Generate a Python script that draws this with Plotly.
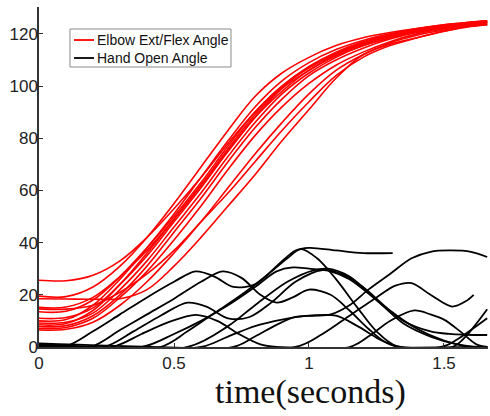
import plotly.graph_objects as go

# ---- Elbow extension/flexion angle (deg), one list per trial, sampled on a common time grid (s)
elbow_t = [0, 0.1, 0.2, 0.3, 0.4, 0.5, 0.6, 0.7, 0.8, 0.9, 1.0, 1.1, 1.2, 1.3, 1.4, 1.5, 1.6, 1.66]

elbow_01 = [25.6, 25.4, 27.5, 33, 42, 53, 65, 78, 90, 100, 107.5, 113, 117, 119.5, 121.5, 123, 124, 124.5]
elbow_02 = [19.5, 19.3, 23, 31, 42, 55, 69, 83, 96, 105, 111, 115.5, 118.5, 120.5, 122, 123.5, 124.5, 125]
elbow_03 = [18.5, 18.4, 18.3, 18.5, 22, 31, 42, 54, 66, 79, 91, 103, 112, 116, 118.5, 121, 123, 123.8]
elbow_04 = [14.6, 14.5, 16, 21, 28, 37, 48, 59, 71, 83, 94, 104, 111, 115.5, 118.5, 121, 122.8, 123.5]
elbow_05 = [13.5, 13.7, 18, 27, 38, 50, 63, 77, 90, 100, 107, 112.5, 116.5, 119.5, 121.5, 123, 124, 124.5]
elbow_06 = [10, 10.5, 16, 26, 38, 51, 65, 79, 92, 102, 109, 114, 117.5, 120, 122, 123.5, 124.5, 125]
elbow_07 = [9.2, 9.5, 13, 22, 33, 46, 59, 73, 86, 97, 105, 111, 115.5, 118.5, 121, 122.5, 123.5, 124]
elbow_08 = [7.8, 8.2, 12, 20, 31, 44, 57, 71, 84, 95, 104, 110, 114.5, 118, 120.5, 122, 123.5, 124]
elbow_09 = [7.0, 7.5, 11, 19, 29, 41, 54, 68, 81, 92, 101, 108, 113, 117, 120, 122, 123.5, 124]
elbow_10 = [6.5, 6.8, 9.5, 16, 25, 36, 48, 61, 74, 86, 97, 106, 112, 116.5, 119.5, 121.5, 123, 123.5]
elbow_11 = [11, 11.3, 15, 24, 35, 48, 61, 75, 88, 99, 106, 112, 116, 119, 121, 122.5, 124, 124.5]
elbow_12 = [15.2, 15.3, 19, 27, 37, 49, 62, 75, 88, 98, 106, 111.5, 115.5, 118.5, 121, 122.5, 124, 124.5]
elbow_13 = [8.5, 9, 14, 24, 36, 49, 62, 76, 89, 99.5, 107, 112.5, 116.5, 119.5, 121.5, 123, 124, 124.7]

elbow_trials = [elbow_01, elbow_02, elbow_03, elbow_04, elbow_05, elbow_06, elbow_07,
                elbow_08, elbow_09, elbow_10, elbow_11, elbow_12, elbow_13]

# ---- Hand opening angle (deg), one (time, value) pair of lists per trial
hand_01_t = [0, 0.1, 0.2, 0.3, 0.4, 0.5, 0.58, 0.65, 0.72, 0.8, 0.88, 0.95, 1.0, 1.1, 1.2, 1.31]
hand_01_y = [0.8, 0.3, 6, 12.5, 19, 25, 29, 27, 23, 24, 31, 37, 38, 37, 36, 36]

hand_02_t = [0, 0.19, 0.3, 0.4, 0.5, 0.6, 0.68, 0.75, 0.82, 0.88, 0.94, 1.0, 1.08, 1.15, 1.22, 1.28, 1.34, 1.66]
hand_02_y = [0.5, 0, 6.5, 12.5, 18.5, 25, 29, 26.5, 20, 17, 19, 22, 20, 14, 7, 2, 0, 0]

hand_03_t = [0, 0.24, 0.35, 0.45, 0.55, 0.62, 0.7, 0.78, 0.86, 0.95, 1.05, 1.12, 1.2, 1.3, 1.4, 1.5, 1.6, 1.66]
hand_03_y = [1.0, 0, 6, 12, 17, 15.5, 11, 11.5, 17, 25, 29.5, 28, 23, 14, 7, 2.5, 0, 0]

hand_04_t = [0, 0.27, 0.38, 0.48, 0.58, 0.66, 0.74, 0.82, 0.88, 1.66]
hand_04_y = [0.4, 0, 5, 9.5, 12.3, 10, 5, 1, 0, 0]

hand_05_t = [0, 0.38, 0.5, 0.6, 0.7, 0.8, 0.88, 0.94, 1.0, 1.08, 1.15, 1.25, 1.35, 1.45, 1.52, 1.58, 1.66]
hand_05_y = [1.2, 0, 5, 10, 16, 23, 29, 30.5, 30, 29, 26, 18, 10, 6, 5, 4.7, 4.6]

hand_06_t = [0, 0.45, 0.55, 0.65, 0.75, 0.85, 0.92, 0.97, 1.03, 1.1, 1.18, 1.25, 1.33, 1.66]
hand_06_y = [0.6, 0, 6, 13, 20, 28, 34, 37.5, 34, 26, 15, 6, 0, 0]

hand_07_t = [0, 0.72, 0.8, 0.88, 0.95, 1.02, 1.08, 1.15, 1.22, 1.3, 1.38, 1.45, 1.52, 1.6, 1.66]
hand_07_y = [0.3, 0, 4, 8.5, 11.5, 12, 12.5, 16, 22, 28, 34, 36.5, 37, 36.5, 34.5]

hand_08_t = [0, 0.95, 1.05, 1.15, 1.25, 1.32, 1.38, 1.45, 1.53, 1.58, 1.61]
hand_08_y = [0.9, 0, 5, 12, 19, 23.5, 24.5, 20, 15.5, 17.5, 20]

hand_09_t = [0, 1.15, 1.22, 1.3, 1.39, 1.45, 1.5, 1.56, 1.62, 1.66]
hand_09_y = [0.2, 0, 4, 10, 14, 12.5, 10.5, 6, 1, 0]

hand_10_t = [0, 0.55, 0.7, 0.8, 0.92, 1.02, 1.07, 1.15, 1.25, 1.35, 1.45, 1.55, 1.62, 1.66]
hand_10_y = [0.7, 0, 8, 16, 25, 29.5, 30, 27, 18, 9, 4, 1, 0, 0]

hand_11_t = [0, 1.49, 1.55, 1.6, 1.66]
hand_11_y = [1.4, 0, 3, 6.5, 11]

hand_12_t = [0, 1.53, 1.58, 1.62, 1.66]
hand_12_y = [0.5, 0, 4, 9, 14.5]

hand_13_t = [0, 0.6, 0.7, 0.8, 0.9, 1.0, 1.1, 1.18, 1.26, 1.33, 1.66]
hand_13_y = [1.1, 0, 4, 8, 10.5, 12, 12, 8, 3, 0, 0]

hand_trials = [
    (hand_01_t, hand_01_y), (hand_02_t, hand_02_y), (hand_03_t, hand_03_y),
    (hand_04_t, hand_04_y), (hand_05_t, hand_05_y), (hand_06_t, hand_06_y),
    (hand_07_t, hand_07_y), (hand_08_t, hand_08_y), (hand_09_t, hand_09_y),
    (hand_10_t, hand_10_y), (hand_11_t, hand_11_y), (hand_12_t, hand_12_y),
    (hand_13_t, hand_13_y),
]

x_ticks = [0, 0.5, 1, 1.5]
x_tick_text = ["0", "0.5", "1", "1.5"]
y_ticks = [0, 20, 40, 60, 80, 100, 120]

legend_labels = ["Elbow Ext/Flex Angle", "Hand Open Angle"]
legend_colors = ["#ff0000", "#000000"]

fig = go.Figure()

for trial in elbow_trials:
    fig.add_trace(go.Scatter(
        x=elbow_t, y=trial, mode="lines",
        line=dict(color=legend_colors[0], width=1.6, shape="spline", smoothing=1.0),
        name=legend_labels[0], showlegend=False, hoverinfo="skip",
    ))

for t, y in hand_trials:
    fig.add_trace(go.Scatter(
        x=t, y=y, mode="lines",
        line=dict(color=legend_colors[1], width=1.8, shape="spline", smoothing=0.9),
        name=legend_labels[1], showlegend=False, hoverinfo="skip",
    ))

# Boxed key in the upper-left corner of the axes (short line samples, MATLAB style)
box_x0, box_x1, box_y0, box_y1 = 0.069, 0.4276, 0.8235, 0.9353
row_y = [0.9029, 0.8500]
shapes = [dict(type="rect", xref="paper", yref="paper",
               x0=box_x0, x1=box_x1, y0=box_y0, y1=box_y1,
               line=dict(color="#8a8a8a", width=1), fillcolor="white", layer="above")]
annotations = []
for label, color, ry in zip(legend_labels, legend_colors, row_y):
    shapes.append(dict(type="line", xref="paper", yref="paper",
                       x0=0.078, x1=0.1225, y0=ry, y1=ry,
                       line=dict(color=color, width=1.8), layer="above"))
    annotations.append(dict(text=label, xref="paper", yref="paper",
                            x=0.1247, y=ry, xanchor="left", yanchor="middle",
                            showarrow=False, font=dict(size=14, color="#111111")))

annotations.append(dict(
    text="time(seconds)", xref="paper", yref="paper",
    x=0.604, y=-0.132, xanchor="center", yanchor="middle",
    showarrow=False,
    font=dict(family="Liberation Serif, Times New Roman, serif", size=34, color="#111111"),
))

fig.update_layout(
    width=490, height=416,
    margin=dict(l=39, r=2, t=7, b=69),
    paper_bgcolor="white", plot_bgcolor="white",
    font=dict(family="Liberation Sans, Arial, sans-serif", color="#222222", size=17),
    showlegend=False,
    shapes=shapes,
    annotations=annotations,
)

fig.update_xaxes(
    range=[0, 1.663], tickvals=x_ticks, ticktext=x_tick_text,
    ticks="inside", ticklen=4, tickcolor="#333333",
    showline=True, linecolor="#333333", linewidth=1.5,
    showgrid=False, zeroline=False, mirror=False,
)
fig.update_yaxes(
    range=[0, 130.3], tickvals=y_ticks,
    ticks="inside", ticklen=4, tickcolor="#333333",
    showline=True, linecolor="#333333", linewidth=1.5,
    showgrid=False, zeroline=False, mirror=False,
    ticklabelstandoff=-4,
)

fig.write_html("out.html")
